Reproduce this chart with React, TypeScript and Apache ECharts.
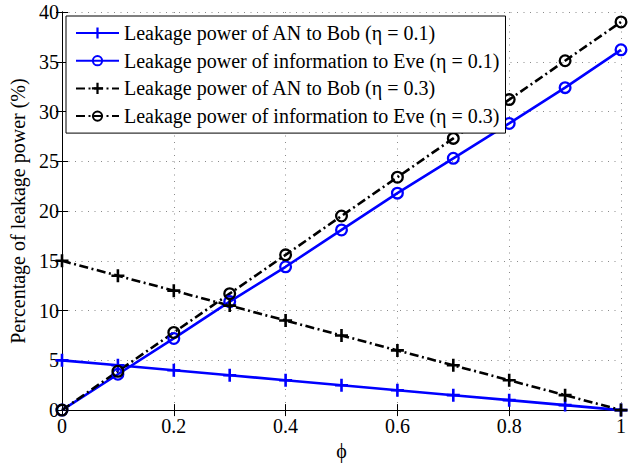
import React, { useEffect, useRef } from 'react';
import * as echarts from 'echarts';

const phi = [0, 0.1, 0.2, 0.3, 0.4, 0.5, 0.6, 0.7, 0.8, 0.9, 1];
const anBob01 = [5, 4.5, 4, 3.5, 3, 2.5, 2, 1.5, 1, 0.5, 0];
const infoEve01 = [0, 3.6, 7.2, 10.9, 14.4, 18.1, 21.8, 25.3, 28.8, 32.4, 36.2];
const anBob03 = [15, 13.5, 12, 10.5, 9, 7.5, 6, 4.5, 3, 1.5, 0];
const infoEve03 = [0, 3.9, 7.8, 11.7, 15.6, 19.5, 23.4, 27.3, 31.2, 35.1, 39];

const seriesNames = [
  'Leakage power of AN to Bob (η = 0.1)',
  'Leakage power of information to Eve (η = 0.1)',
  'Leakage power of AN to Bob (η = 0.3)',
  'Leakage power of information to Eve (η = 0.3)',
];
const xAxisTitle = 'ϕ';
const yAxisTitle = 'Percentage of leakage power (%)';

const FONT = 'Liberation Serif, DejaVu Serif, serif';
const PLUS = 'path://M5.2,0h2.6v5.2h5.2v2.6h-5.2v5.2h-2.6v-5.2h-5.2v-2.6h5.2z';
const RING =
  'path://M0,6.5a6.5,6.5 0 1,0 13,0a6.5,6.5 0 1,0 -13,0zM2.3,6.5a4.2,4.2 0 1,1 8.4,0a4.2,4.2 0 1,1 -8.4,0z';
const DASHDOT = [9, 3.5, 2, 3.5];

function pairs(ys: number[]) {
  return phi.map((x, i) => [x, ys[i]]);
}

export default function App() {
  const ref = useRef<HTMLDivElement>(null);
  useEffect(() => {
    if (!ref.current) return;
    const chart = echarts.init(ref.current, undefined, { renderer: 'svg' });
    const mk = (name: string, ys: number[], color: string, symbol: string, dash: any) => ({
      name,
      type: 'line',
      data: pairs(ys),
      xAxisIndex: 0,
      yAxisIndex: 0,
      symbol,
      symbolSize: 13,
      showAllSymbol: true,
      lineStyle: { color, width: 2.6, type: dash },
      itemStyle: { color, borderWidth: 0 },
      emphasis: { disabled: true },
    });
    const gridLine = { show: true, lineStyle: { color: '#8a8a8a', width: 1, type: [1, 5.5] } };
    chart.setOption({
      animation: false,
      backgroundColor: '#fff',
      grid: { left: 62, right: 1, top: 12, bottom: 50 },
      legend: {
        orient: 'vertical',
        left: 66,
        top: 16,
        padding: [7, 6, 7, 9],
        itemWidth: 43,
        itemHeight: 14,
        itemGap: 7.7,
        borderColor: '#000',
        borderWidth: 1,
        borderRadius: 0,
        backgroundColor: '#fff',
        textStyle: { fontFamily: FONT, fontSize: 20, color: '#000', lineHeight: 20 },
        data: seriesNames,
      },
      xAxis: [
        {
          type: 'value',
          min: 0,
          max: 1,
          interval: 0.2,
          position: 'bottom',
          name: xAxisTitle,
          nameLocation: 'middle',
          nameGap: 26,
          nameTextStyle: { fontFamily: FONT, fontSize: 20, color: '#000' },
          axisLine: { show: true, lineStyle: { color: '#000', width: 1 } },
          axisTick: { show: true, inside: true, length: 6, lineStyle: { color: '#000' } },
          axisLabel: {
            fontFamily: FONT,
            fontSize: 20,
            color: '#000',
            margin: 6,
            formatter: (v: number) => String(Math.round(v * 10) / 10),
          },
          splitLine: gridLine,
        },
        {
          type: 'value',
          min: 0,
          max: 1,
          interval: 0.2,
          position: 'top',
          axisLine: { show: true, lineStyle: { color: '#000', width: 1 } },
          axisTick: { show: true, inside: true, length: 6, lineStyle: { color: '#000' } },
          axisLabel: { show: false },
          splitLine: { show: false },
        },
      ],
      yAxis: [
        {
          type: 'value',
          min: 0,
          max: 40,
          interval: 5,
          position: 'left',
          name: yAxisTitle,
          nameLocation: 'middle',
          nameGap: 32,
          nameTextStyle: { fontFamily: FONT, fontSize: 20, color: '#000' },
          axisLine: { show: true, lineStyle: { color: '#000', width: 1 } },
          axisTick: { show: true, inside: true, length: 6, lineStyle: { color: '#000' } },
          axisLabel: { fontFamily: FONT, fontSize: 20, color: '#000', margin: 3 },
          splitLine: gridLine,
        },
        {
          type: 'value',
          min: 0,
          max: 40,
          interval: 5,
          position: 'right',
          axisLine: { show: true, lineStyle: { color: '#000', width: 1 } },
          axisTick: { show: true, inside: true, length: 6, lineStyle: { color: '#000' } },
          axisLabel: { show: false },
          splitLine: { show: false },
        },
      ],
      series: [
        mk(seriesNames[0], anBob01, '#0000ff', PLUS, 'solid'),
        mk(seriesNames[1], infoEve01, '#0000ff', RING, 'solid'),
        mk(seriesNames[2], anBob03, '#000000', PLUS, DASHDOT),
        mk(seriesNames[3], infoEve03, '#000000', RING, DASHDOT),
      ],
    });
    return () => chart.dispose();
  }, []);
  return (
    <div
      ref={ref}
      style={{ position: 'fixed', left: 0, top: 0, width: 629, height: 466 }}
    />
  );
}
